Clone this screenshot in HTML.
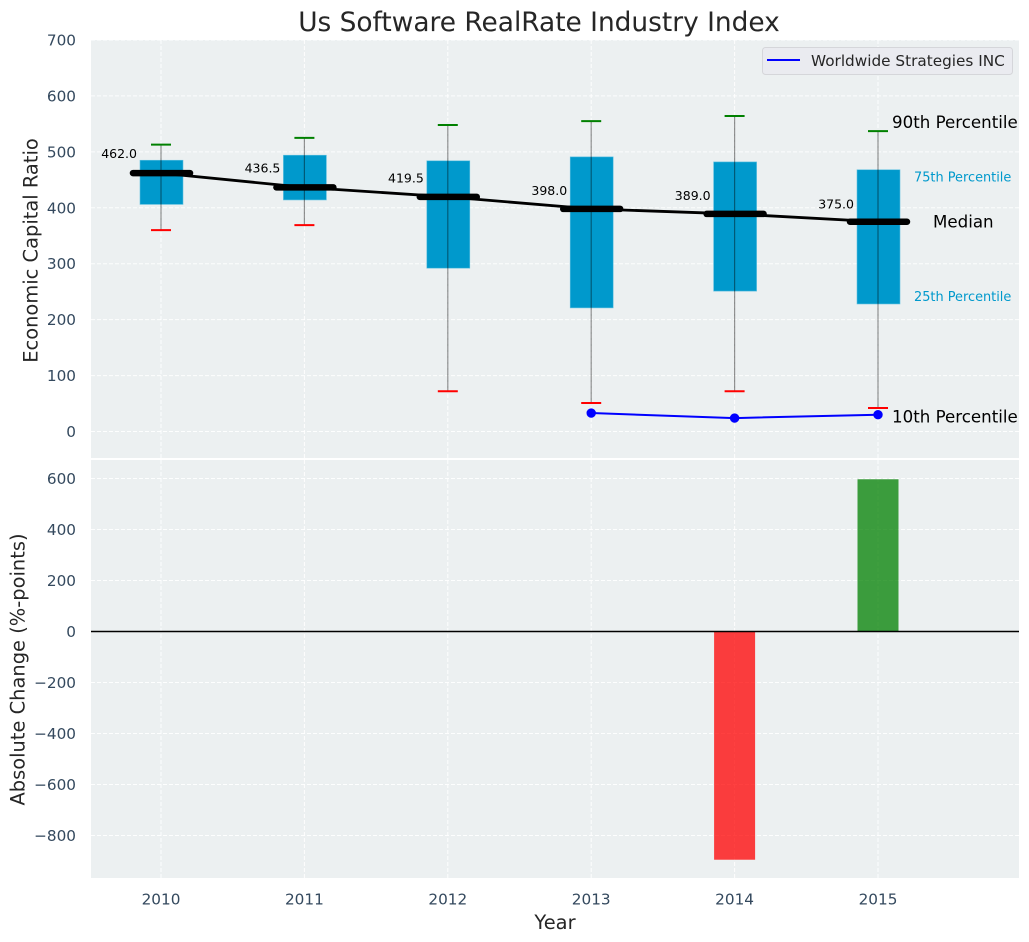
<!DOCTYPE html>
<html>
<head>
<meta charset="utf-8">
<title>Us Software RealRate Industry Index</title>
<style>
html,body{margin:0;padding:0;background:#fff;}
svg{display:block;font-family:"DejaVu Sans","Liberation Sans",sans-serif;}
</style>
</head>
<body>
<svg id="chart" xmlns="http://www.w3.org/2000/svg" width="1029" height="942" viewBox="0 0 1029 942"></svg>
<script>
const years = [2010, 2011, 2012, 2013, 2014, 2015];
const p90 = [513, 525, 548, 555, 564, 537];
const p75 = [485, 494, 484, 491, 482, 468];
const median = [462, 436.5, 419.5, 398, 389, 375];
const p25 = [406, 414, 292, 221, 251, 228];
const p10 = [360, 369, 72, 51, 72, 42];
const medianLabels = ['462.0', '436.5', '419.5', '398.0', '389.0', '375.0'];
const companyYears = [2013, 2014, 2015];
const companyValues = [33, 24, 30];
const changeYears = [2014, 2015];
const changeValues = [-895, 597];
const topTicks = [0, 100, 200, 300, 400, 500, 600, 700];
const bottomTicks = [-800, -600, -400, -200, 0, 200, 400, 600];

const NS = 'http://www.w3.org/2000/svg';
const svg = document.getElementById('chart');
const plotL = 91, plotR = 1019;
const topT = 40, topB = 458, botT = 460, botB = 878;

function xPos(v) { return 161 + (v - 2010) * 143.4; }
function yTop(v) { return 431.5 - v * 0.5593; }
function yBot(v) { return 631.5 - v * 0.255; }

function make(tag, attrs, text) {
  const el = document.createElementNS(NS, tag);
  for (const k in attrs) el.setAttribute(k, attrs[k]);
  if (text !== undefined) el.textContent = text;
  svg.appendChild(el);
  return el;
}
function tagIt(el, name) {
  
  
  return el;
}

tagIt(make('rect', {x: plotL, y: topT, width: plotR - plotL, height: topB - topT, fill: '#ecf0f1'}), 'top-plot-background');
tagIt(make('rect', {x: plotL, y: botT, width: plotR - plotL, height: botB - botT, fill: '#ecf0f1'}), 'bottom-plot-background');

const gridStyle = {stroke: '#ffffff', 'stroke-width': 1, 'stroke-dasharray': '4 2', 'stroke-opacity': 0.9};
years.forEach(function (yr) {
  const x = xPos(yr);
  tagIt(make('line', Object.assign({x1: x, x2: x, y1: topT, y2: topB}, gridStyle)), 'top-x-gridline-' + yr);
  tagIt(make('line', Object.assign({x1: x, x2: x, y1: botT, y2: botB}, gridStyle)), 'bottom-x-gridline-' + yr);
  tagIt(make('text', {x: x, y: 904.5, 'text-anchor': 'middle', 'font-size': 15.28, fill: '#34495e'}, String(yr)), 'x-tick-label-' + yr);
});
topTicks.forEach(function (t) {
  const y = yTop(t);
  tagIt(make('line', Object.assign({x1: plotL, x2: plotR, y1: y, y2: y}, gridStyle)), 'top-y-gridline-' + t);
  tagIt(make('text', {x: 76, y: y + 5.5, 'text-anchor': 'end', 'font-size': 15.28, fill: '#34495e'}, String(t)), 'top-y-tick-label-' + t);
});
bottomTicks.forEach(function (t) {
  const y = yBot(t);
  tagIt(make('line', Object.assign({x1: plotL, x2: plotR, y1: y, y2: y}, gridStyle)), 'bottom-y-gridline-' + t);
  tagIt(make('text', {x: 76, y: y + 5.5, 'text-anchor': 'end', 'font-size': 15.28, fill: '#34495e'}, String(t).replace('-', '\u2212')), 'bottom-y-tick-label-' + t);
});

years.forEach(function (yr, i) {
  const x = xPos(yr);
  const bt = yTop(p75[i]), bb = yTop(p25[i]);
  tagIt(make('rect', {x: x - 21, y: bt, width: 43, height: bb - bt, fill: '#0099cc', stroke: '#5fc0e0', 'stroke-width': 0.6}), 'box-' + yr);
  tagIt(make('line', {x1: x, x2: x, y1: yTop(p90[i]), y2: yTop(p10[i]), stroke: '#000', 'stroke-opacity': 0.42, 'stroke-width': 1.2}), 'whisker-' + yr);
  tagIt(make('line', {x1: x - 10, x2: x + 10, y1: yTop(p90[i]), y2: yTop(p90[i]), stroke: '#008000', 'stroke-width': 2}), 'cap-90th-' + yr);
  tagIt(make('line', {x1: x - 10, x2: x + 10, y1: yTop(p10[i]), y2: yTop(p10[i]), stroke: '#ff0000', 'stroke-width': 2}), 'cap-10th-' + yr);
});

tagIt(make('polyline', {
  points: years.map(function (yr, i) { return xPos(yr) + ',' + yTop(median[i]); }).join(' '),
  fill: 'none', stroke: '#000', 'stroke-width': 2.8
}), 'median-trend-line');

years.forEach(function (yr, i) {
  const x = xPos(yr), y = yTop(median[i]);
  tagIt(make('line', {x1: x - 28, x2: x + 29, y1: y, y2: y, stroke: '#000', 'stroke-width': 6.5, 'stroke-linecap': 'round'}), 'median-bar-' + yr);
  tagIt(make('text', {x: x - 24, y: y - 15.3 + i * 0.4, 'text-anchor': 'end', 'font-size': 12.5, fill: '#000'}, medianLabels[i]), 'median-value-' + yr);
});

tagIt(make('polyline', {
  points: companyYears.map(function (yr, i) { return xPos(yr) + ',' + yTop(companyValues[i]); }).join(' '),
  fill: 'none', stroke: '#0000ff', 'stroke-width': 2
}), 'company-line');
companyYears.forEach(function (yr, i) {
  tagIt(make('circle', {cx: xPos(yr), cy: yTop(companyValues[i]), r: 4.7, fill: '#0000ff'}), 'company-point-' + yr);
});

changeYears.forEach(function (yr, i) {
  const v = changeValues[i];
  const y0 = yBot(0), y1 = yBot(v);
  tagIt(make('rect', {
    x: xPos(yr) - 20.5, y: Math.min(y0, y1), width: 41, height: Math.abs(y1 - y0),
    fill: v < 0 ? '#ff0000' : '#008000', 'fill-opacity': 0.75
  }), 'change-bar-' + yr);
});
tagIt(make('line', {x1: plotL, x2: plotR, y1: yBot(0), y2: yBot(0), stroke: '#000', 'stroke-width': 1.4}), 'zero-line');

const last = years.length - 1;
const lastX = xPos(years[last]);
tagIt(make('text', {x: lastX + 14, y: yTop(p90[last]) - 3, 'font-size': 16.67, fill: '#000'}, '90th Percentile'), 'annotation-90th-percentile');
tagIt(make('text', {x: lastX + 36, y: yTop(p75[last]) + 12, 'font-size': 12.9, fill: '#0099cc'}, '75th Percentile'), 'annotation-75th-percentile');
tagIt(make('text', {x: lastX + 55, y: yTop(median[last]) + 5.5, 'font-size': 16.67, fill: '#000'}, 'Median'), 'annotation-median');
tagIt(make('text', {x: lastX + 36, y: yTop(p25[last]) - 3, 'font-size': 12.9, fill: '#0099cc'}, '25th Percentile'), 'annotation-25th-percentile');
tagIt(make('text', {x: lastX + 14, y: yTop(p10[last]) + 14.5, 'font-size': 16.67, fill: '#000'}, '10th Percentile'), 'annotation-10th-percentile');

tagIt(make('rect', {x: 762.5, y: 47.5, width: 250, height: 27, rx: 3, fill: '#eaebf0', stroke: '#d5d6da', 'stroke-width': 1}), 'legend-box');
tagIt(make('line', {x1: 767, x2: 800, y1: 60, y2: 60, stroke: '#0000ff', 'stroke-width': 2}), 'legend-line');
tagIt(make('text', {x: 811, y: 66, 'font-size': 15.28, fill: '#262626'}, 'Worldwide Strategies INC'), 'legend-label');

tagIt(make('text', {x: 539, y: 31, 'text-anchor': 'middle', 'font-size': 26.4, fill: '#262626'}, 'Us Software RealRate Industry Index'), 'chart-title');
tagIt(make('text', {x: 555, y: 929, 'text-anchor': 'middle', 'font-size': 19.44, fill: '#262626'}, 'Year'), 'x-axis-title');
tagIt(make('text', {x: 0, y: 0, transform: 'translate(37.5,250.5) rotate(-90)', 'text-anchor': 'middle', 'font-size': 19.44, fill: '#262626'}, 'Economic Capital Ratio'), 'top-y-axis-title');
tagIt(make('text', {x: 0, y: 0, transform: 'translate(24.5,669.5) rotate(-90)', 'text-anchor': 'middle', 'font-size': 19.44, fill: '#262626'}, 'Absolute Change (%-points)'), 'bottom-y-axis-title');
</script>
</body>
</html>
